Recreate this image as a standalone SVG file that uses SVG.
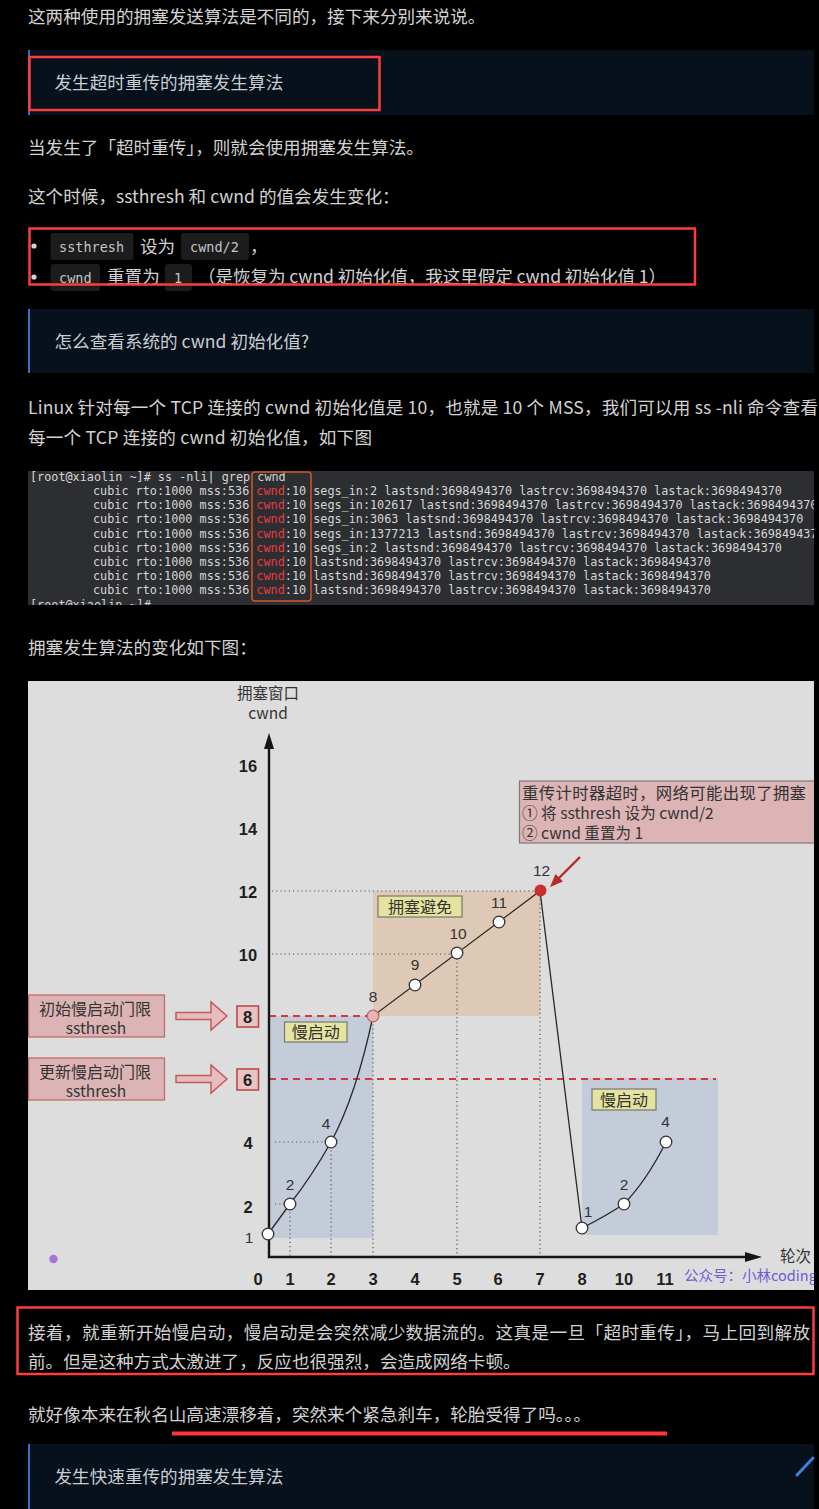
<svg xmlns="http://www.w3.org/2000/svg" width="819" height="1509" viewBox="0 0 819 1509">
<style>
.body{font-family:"Noto Sans CJK SC","Noto Sans",sans-serif;font-size:17.6px;fill:#d2d2d2}
.qt{font-family:"Noto Sans CJK SC","Noto Sans",sans-serif;font-size:17.6px;fill:#c9cdd2}
.chip{fill:#1c1c1c}
.code{font-family:"DejaVu Sans Mono","Liberation Mono",monospace;font-size:13.5px;fill:#c4c4c4}
.term{font-family:"DejaVu Sans Mono","Liberation Mono",monospace;font-size:11.8px;fill:#d6d6d6}
.tred{fill:#ec3a40}
.hl{fill:none;stroke:#ff3c3c;stroke-width:2.5}
.cn{font-family:"Noto Sans CJK SC","Noto Sans",sans-serif;fill:#333}
.ax{font-family:"Liberation Sans","Arial",sans-serif;font-weight:bold;font-size:16.5px;fill:#1e1e1e;text-anchor:middle}
.pl{font-family:"Liberation Sans","Arial",sans-serif;font-size:15.5px;fill:#333;text-anchor:middle}
.dot{fill:none;stroke:#555;stroke-width:1.2;stroke-dasharray:1.2 3}
.dash{fill:none;stroke:#d23a3a;stroke-width:2.2;stroke-dasharray:7 5}
.pt{fill:#fff;stroke:#333;stroke-width:1.3}
.tag{fill:#e4e49e;stroke:#777;stroke-width:1.2}
.pink{fill:#dcb4b6;stroke:#c46c6c;stroke-width:1.3}
.farrow{fill:#e6bcbc;stroke:#c45a5a;stroke-width:1.5}
.vbox{fill:#eac2c2;stroke:#b44444;stroke-width:1.5}
</style>
<defs>
<clipPath id="termclip"><rect x="28" y="471" width="786" height="134"/></clipPath>
<clipPath id="chartclip"><rect x="28" y="681" width="786" height="609"/></clipPath>
<clipPath id="pageclip"><rect x="0" y="0" width="819" height="1509"/></clipPath>
</defs>
<rect x="0" y="0" width="819" height="1509" fill="#000"/>

<g id="intro">
<text class="body" x="28" y="23">这两种使用的拥塞发送算法是不同的，接下来分别来说说。</text>
</g>

<g id="quote-timeout">
<rect x="28" y="50" width="786" height="65" fill="#06111b"/>
<rect x="28" y="50" width="2" height="65" fill="#3c6fc4"/>
<text class="qt" x="54.5" y="89">发生超时重传的拥塞发生算法</text>
<rect class="hl" x="29.5" y="57" width="350" height="53"/>
</g>

<g id="para-timeout">
<text class="body" x="28" y="154">当发生了「超时重传」，则就会使用拥塞发生算法。</text>
<text class="body" x="28" y="203">这个时候，ssthresh 和 cwnd 的值会发生变化：</text>
</g>

<g id="bullets">
<circle cx="34" cy="246" r="2.6" fill="#d2d2d2"/>
<rect class="chip" x="50.5" y="233" width="83" height="27" rx="3"/>
<text class="code" x="59" y="252">ssthresh</text>
<text class="body" x="140" y="253">设为</text>
<rect class="chip" x="181" y="233" width="68" height="27" rx="3"/>
<text class="code" x="190" y="252">cwnd/2</text>
<text class="body" x="250" y="253">，</text>
<circle cx="34" cy="277" r="2.6" fill="#d2d2d2"/>
<rect class="chip" x="50.5" y="264" width="49.5" height="27" rx="3"/>
<text class="code" x="59" y="283">cwnd</text>
<text class="body" x="107" y="283">重置为</text>
<rect class="chip" x="165" y="264" width="27" height="27" rx="3"/>
<text class="code" x="174" y="283">1</text>
<text class="body" x="198" y="283" textLength="468">（是恢复为 cwnd 初始化值，我这里假定 cwnd 初始化值 1）</text>
<rect class="hl" x="29.5" y="228.5" width="665.5" height="56"/>
</g>

<g id="quote-init">
<rect x="28" y="309" width="786" height="64" fill="#06111b"/>
<rect x="28" y="309" width="2" height="64" fill="#3c6fc4"/>
<text class="qt" x="54.5" y="348">怎么查看系统的 cwnd 初始化值?</text>
</g>

<g id="para-linux" clip-path="url(#pageclip)">
<text class="body" x="28" y="414" textLength="790">Linux 针对每一个 TCP 连接的 cwnd 初始化值是 10，也就是 10 个 MSS，我们可以用 ss -nli 命令查看</text>
<text class="body" x="28" y="444" textLength="344">每一个 TCP 连接的 cwnd 初始化值，如下图</text>
</g>

<g id="terminal">
<rect x="28" y="471" width="786" height="134" fill="#2c2e31"/>
<g clip-path="url(#termclip)" class="term">
<text x="30" y="481">[root@xiaolin ~]# ss -nli| grep cwnd</text>
<text x="93" y="495">cubic rto:1000 mss:536 <tspan class="tred">cwnd</tspan>:10 segs_in:2 lastsnd:3698494370 lastrcv:3698494370 lastack:3698494370</text>
<text x="93" y="509.2">cubic rto:1000 mss:536 <tspan class="tred">cwnd</tspan>:10 segs_in:102617 lastsnd:3698494370 lastrcv:3698494370 lastack:3698494370</text>
<text x="93" y="523.4">cubic rto:1000 mss:536 <tspan class="tred">cwnd</tspan>:10 segs_in:3063 lastsnd:3698494370 lastrcv:3698494370 lastack:3698494370</text>
<text x="93" y="537.6">cubic rto:1000 mss:536 <tspan class="tred">cwnd</tspan>:10 segs_in:1377213 lastsnd:3698494370 lastrcv:3698494370 lastack:3698494370</text>
<text x="93" y="551.8">cubic rto:1000 mss:536 <tspan class="tred">cwnd</tspan>:10 segs_in:2 lastsnd:3698494370 lastrcv:3698494370 lastack:3698494370</text>
<text x="93" y="566">cubic rto:1000 mss:536 <tspan class="tred">cwnd</tspan>:10 lastsnd:3698494370 lastrcv:3698494370 lastack:3698494370</text>
<text x="93" y="580.2">cubic rto:1000 mss:536 <tspan class="tred">cwnd</tspan>:10 lastsnd:3698494370 lastrcv:3698494370 lastack:3698494370</text>
<text x="93" y="594.4">cubic rto:1000 mss:536 <tspan class="tred">cwnd</tspan>:10 lastsnd:3698494370 lastrcv:3698494370 lastack:3698494370</text>
<text x="30" y="608.6">[root@xiaolin ~]#</text>
</g>
<rect x="252" y="472" width="59" height="129" rx="3" fill="none" stroke="#d8532e" stroke-width="1.5"/>
</g>

<g id="para-chart">
<text class="body" x="28" y="654">拥塞发生算法的变化如下图：</text>
</g>

<g id="chart" clip-path="url(#chartclip)">
<rect x="28" y="681" width="786" height="609" fill="#dddddd"/>
<g id="regions">
<rect x="269" y="1016" width="104" height="222" fill="#c4ccd9"/>
<rect x="373" y="891" width="167" height="125" fill="#ddc9b5"/>
<rect x="582" y="1078" width="136" height="157" fill="#c4ccd9"/>
</g>
<g id="gridlines">
<path class="dot" d="M272,891H540 M272,954H457 M275,1142H331 M275,1204H290"/>
<path class="dot" d="M290,1204V1256 M331,1142V1256 M373,1016V1256 M457,954V1256 M540,891V1256"/>
<path class="dash" d="M269,1016H373"/>
<path class="dash" d="M269,1079H716"/>
</g>
<g id="axes">
<path d="M269,745V1257H752" fill="none" stroke="#151515" stroke-width="2.4"/>
<polygon points="269,733 264,749 274,749" fill="#151515"/>
<polygon points="762,1257 745,1252 745,1262" fill="#151515"/>
<text class="cn" x="268" y="699" font-size="15.5" text-anchor="middle">拥塞窗口</text>
<text class="cn" x="268" y="719" font-size="15.5" text-anchor="middle" font-family="Liberation Sans, sans-serif">cwnd</text>
<text class="cn" x="780" y="1262" font-size="15.5">轮次</text>
<text x="684" y="1281" font-family="Noto Sans CJK SC, sans-serif" font-size="14.5" fill="#6a5fd6">公众号：小林coding</text>
</g>
<g id="ylabels">
<text class="ax" x="248" y="772">16</text>
<text class="ax" x="248" y="835">14</text>
<text class="ax" x="248" y="898">12</text>
<text class="ax" x="248" y="961">10</text>
<text class="ax" x="248" y="1149">4</text>
<text class="ax" x="248" y="1213">2</text>
<text class="pl" x="249" y="1243" font-size="16">1</text>
</g>
<g id="xlabels">
<text class="ax" x="258" y="1285">0</text>
<text class="ax" x="290" y="1285">1</text>
<text class="ax" x="331" y="1285">2</text>
<text class="ax" x="373" y="1285">3</text>
<text class="ax" x="415" y="1285">4</text>
<text class="ax" x="457" y="1285">5</text>
<text class="ax" x="498" y="1285">6</text>
<text class="ax" x="540" y="1285">7</text>
<text class="ax" x="582" y="1285">8</text>
<text class="ax" x="624" y="1285">10</text>
<text class="ax" x="665" y="1285">11</text>
</g>
<g id="connectors">
<path d="M268,1234 L290,1204 Q312,1176 331,1142 Q356,1096 373,1016 L540,891 L582,1228 Q606,1216 624,1204 Q647,1180 666,1142" fill="none" stroke="#2a2a2a" stroke-width="1.3"/>
<path d="M580,857 L557,880" stroke="#b52a2a" stroke-width="2.4" fill="none"/>
<polygon points="550,887 563,881.5 555.5,874" fill="#b52a2a"/>
<path class="farrow" d="M176,1012.5H211V1002L227,1016L211,1030V1019.5H176Z"/>
<path class="farrow" d="M176,1075.5H211V1065L227,1079L211,1093V1082.5H176Z"/>
</g>
<g id="points">
<circle class="pt" cx="268" cy="1234" r="5.8"/>
<circle class="pt" cx="290" cy="1204" r="5.8"/>
<circle class="pt" cx="331" cy="1142" r="5.8"/>
<circle cx="373" cy="1016" r="5.8" fill="#e8b4b4" stroke="#c46060" stroke-width="1.3"/>
<circle class="pt" cx="415" cy="985" r="5.8"/>
<circle class="pt" cx="457" cy="953" r="5.8"/>
<circle class="pt" cx="499" cy="922" r="5.8"/>
<circle cx="540.5" cy="890.5" r="6" fill="#c83030"/>
<circle class="pt" cx="582" cy="1228" r="5.8"/>
<circle class="pt" cx="624" cy="1204" r="5.8"/>
<circle class="pt" cx="666" cy="1142" r="5.8"/>
</g>
<g id="pointlabels">
<text class="pl" x="290" y="1190">2</text>
<text class="pl" x="326" y="1129">4</text>
<text class="pl" x="373" y="1002">8</text>
<text class="pl" x="415" y="970">9</text>
<text class="pl" x="458" y="939">10</text>
<text class="pl" x="499" y="908">11</text>
<text class="pl" x="541.5" y="876">12</text>
<text class="pl" x="588" y="1217">1</text>
<text class="pl" x="624" y="1190">2</text>
<text class="pl" x="665.5" y="1127">4</text>
</g>
<g id="tag-avoid">
<rect class="tag" x="378" y="896" width="84" height="21"/>
<text class="cn" x="420" y="913" font-size="16" text-anchor="middle">拥塞避免</text>
</g>
<g id="tag-slow1">
<rect class="tag" x="284.5" y="1022" width="62.5" height="20"/>
<text class="cn" x="315.7" y="1038" font-size="16" text-anchor="middle">慢启动</text>
</g>
<g id="tag-slow2">
<rect class="tag" x="592" y="1089" width="64" height="21"/>
<text class="cn" x="624" y="1105.5" font-size="16" text-anchor="middle">慢启动</text>
</g>
<g id="note-timeout">
<rect x="519.5" y="781" width="310" height="62" fill="#dcb4b6" stroke="#7a7a7a" stroke-width="1.2"/>
<text class="cn" x="522" y="799" font-size="16.4" textLength="284">重传计时器超时，网络可能出现了拥塞</text>
<text class="cn" x="522" y="819" font-size="15.6">① 将 ssthresh 设为 cwnd/2</text>
<text class="cn" x="522" y="838.5" font-size="15.6">② cwnd 重置为 1</text>
</g>
<g id="box-init-ssthresh">
<rect class="pink" x="28.5" y="995" width="136" height="42"/>
<text class="cn" x="95" y="1014.5" font-size="16" text-anchor="middle">初始慢启动门限</text>
<text class="cn" x="96" y="1033.5" font-size="15.5" text-anchor="middle" font-family="DejaVu Sans, sans-serif">ssthresh</text>
</g>
<g id="box-new-ssthresh">
<rect class="pink" x="28.5" y="1058" width="136" height="42"/>
<text class="cn" x="95" y="1077.5" font-size="16" text-anchor="middle">更新慢启动门限</text>
<text class="cn" x="96" y="1096.5" font-size="15.5" text-anchor="middle" font-family="DejaVu Sans, sans-serif">ssthresh</text>
</g>
<g id="val8">
<rect class="vbox" x="237" y="1006" width="21.5" height="21"/>
<text class="ax" x="247.7" y="1022.5">8</text>
</g>
<g id="val6">
<rect class="vbox" x="237" y="1069" width="21.5" height="21"/>
<text class="ax" x="247.7" y="1085.5">6</text>
</g>
<circle cx="53.5" cy="1259" r="4.2" fill="#a874d6"/>
</g>

<g id="para-after">
<text class="body" x="28" y="1339" textLength="782">接着，就重新开始慢启动，慢启动是会突然减少数据流的。这真是一旦「超时重传」，马上回到解放</text>
<text class="body" x="28" y="1368">前。但是这种方式太激进了，反应也很强烈，会造成网络卡顿。</text>
<rect class="hl" x="17.5" y="1307.5" width="796" height="66.5"/>
</g>

<g id="para-drift">
<text class="body" x="28" y="1421">就好像本来在秋名山高速漂移着，突然来个紧急刹车，轮胎受得了吗。。。</text>
<rect x="172" y="1431.5" width="495" height="4" fill="#ff3535"/>
</g>

<g id="quote-fast">
<rect x="28" y="1444" width="786" height="65" fill="#06111b"/>
<rect x="28" y="1444" width="2" height="65" fill="#3c6fc4"/>
<text class="qt" x="54.5" y="1483">发生快速重传的拥塞发生算法</text>
<path d="M797,1475 L813,1458" stroke="#3d7fe0" stroke-width="3" stroke-linecap="round"/>
</g>
</svg>
